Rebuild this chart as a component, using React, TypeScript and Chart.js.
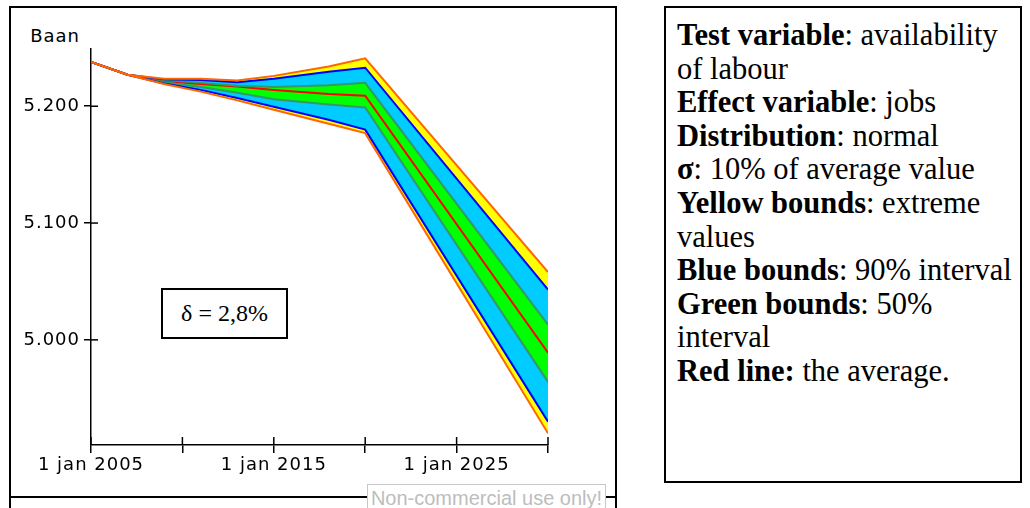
import React, { useEffect, useRef } from "react";
import { Chart, registerables } from "chart.js";

Chart.register(...registerables);

// ---- data ----
const years = [2005, 2007, 2009, 2011, 2013, 2015, 2018, 2020, 2030];
const extremeMax = [5238, 5227, 5223.5, 5223.5, 5222, 5226, 5234, 5241, 5058];
const p95 = [5238, 5227, 5223, 5222.5, 5220.5, 5223.5, 5229.5, 5233, 5043];
const p75 = [5238, 5227, 5222.5, 5220, 5217.5, 5216.5, 5218, 5220, 5013];
const average = [5238, 5227, 5221.5, 5219, 5217, 5214, 5210.5, 5209, 4989];
const p25 = [5238, 5227, 5220.5, 5216.5, 5211.5, 5206, 5201.5, 5199, 4964];
const p5 = [5238, 5227, 5219.5, 5214, 5207, 5199.5, 5188.5, 5180, 4930];
const extremeMin = [5238, 5227, 5219, 5212.5, 5205, 5197, 5185, 5177, 4920];

const xTickValues = [2005, 2010, 2015, 2020, 2025, 2030];
const xTickLabels = ["1 jan 2005", "", "1 jan 2015", "", "1 jan 2025", ""];
const yTickValues = [5000, 5100, 5200];
const yTickLabels = ["5.000", "5.100", "5.200"];

const ORANGE = "#FF6600";
const YELLOW = "#FFFF00";
const BLUE = "#0000FF";
const LIGHTBLUE = "#00CCFF";
const GREENLINE = "#339966";
const GREEN = "#00FF00";
const RED = "#FF0000";

const pts = (arr: number[]) => arr.map((v, i) => ({ x: years[i], y: v }));

const spacing = {
  id: "spacing",
  beforeDraw(chart: any) {
    try {
      chart.ctx.letterSpacing = "1px";
    } catch (e) {}
  },
};

const crossTicks = {
  id: "crossTicks",
  afterDraw(chart: any) {
    const { ctx, chartArea, scales } = chart;
    ctx.save();
    ctx.strokeStyle = "#000";
    ctx.lineWidth = 1.5;
    xTickValues.forEach((v) => {
      const px = scales.x.getPixelForValue(v);
      ctx.beginPath();
      ctx.moveTo(px, chartArea.bottom);
      ctx.lineTo(px, chartArea.bottom - 8);
      ctx.stroke();
    });
    yTickValues.forEach((v) => {
      const py = scales.y.getPixelForValue(v);
      ctx.beginPath();
      ctx.moveTo(chartArea.left, py);
      ctx.lineTo(chartArea.left + 7, py);
      ctx.stroke();
    });
    ctx.restore();
  },
};

function ChartCanvas() {
  const ref = useRef<HTMLCanvasElement>(null);
  useEffect(() => {
    if (!ref.current) return;
    const font = { family: "'DejaVu Sans'", size: 18 };
    const line = (label: string, data: number[], color: string, order: number, fill: any, bg: string) => ({
      label,
      data: pts(data),
      borderColor: color,
      borderWidth: 2,
      backgroundColor: bg,
      fill,
      order,
      pointRadius: 0,
      tension: 0,
    });
    const chart = new Chart(ref.current, {
      type: "line",
      data: {
        datasets: [
          line("max", extremeMax, ORANGE, 0, 1, YELLOW),
          line("p95", p95, BLUE, 1, 2, LIGHTBLUE),
          line("p75", p75, GREENLINE, 2, 4, GREEN),
          line("average", average, RED, 3, false, RED),
          line("p25", p25, GREENLINE, 2, 5, LIGHTBLUE),
          line("p5", p5, BLUE, 1, 6, YELLOW),
          line("min", extremeMin, ORANGE, 0, false, YELLOW),
        ] as any,
      },
      options: {
        animation: false,
        responsive: false,
        maintainAspectRatio: false,
        layout: { padding: { left: 0, top: 49, right: 482, bottom: 23 } },
        plugins: {
          legend: { display: false },
          tooltip: { enabled: false },
          filler: { drawTime: "beforeDatasetsDraw" },
        } as any,
        scales: {
          x: {
            type: "linear",
            min: 2005,
            max: 2030,
            afterBuildTicks: (s: any) => {
              s.ticks = xTickValues.map((v) => ({ value: v }));
            },
            afterFit: (s: any) => {
              s.height = 40;
            },
            ticks: {
              autoSkip: false,
              maxRotation: 0,
              color: "#000",
              font,
              padding: 2,
              callback: (v: any) => xTickLabels[xTickValues.indexOf(Number(v))] ?? "",
            },
            grid: { drawOnChartArea: false, tickLength: 8, color: "#000", lineWidth: 1.5 },
            border: { color: "#000", width: 1.5 },
          },
          y: {
            min: 4910,
            max: 5249,
            afterBuildTicks: (s: any) => {
              s.ticks = yTickValues.map((v) => ({ value: v }));
            },
            afterFit: (s: any) => {
              s.width = 91;
            },
            ticks: {
              color: "#000",
              font,
              padding: 4,
              callback: (v: any) => yTickLabels[yTickValues.indexOf(Number(v))] ?? "",
            },
            grid: { drawOnChartArea: false, tickLength: 7, color: "#000", lineWidth: 1.5 },
            border: { color: "#000", width: 1.5 },
          },
        },
      } as any,
      plugins: [spacing, crossTicks],
    });
    return () => chart.destroy();
  }, []);
  return (
    <canvas
      ref={ref}
      width={1030}
      height={508}
      style={{ position: "absolute", left: 0, top: 0, width: 1030, height: 508 }}
    />
  );
}

export default function App() {
  const serif = "'Liberation Serif', 'Times New Roman', serif";
  return (
    <div
      style={{
        position: "fixed",
        left: 0,
        top: 0,
        width: 1030,
        height: 508,
        background: "#fff",
        overflow: "hidden",
      }}
    >
      {/* chart frame */}
      <div
        style={{
          position: "absolute",
          left: 9,
          top: 6,
          width: 608,
          height: 492,
          border: "2px solid #000",
          boxSizing: "border-box",
        }}
      />
      <div
        style={{
          position: "absolute",
          left: 9,
          top: 496,
          width: 608,
          height: 40,
          borderLeft: "2px solid #000",
          borderRight: "2px solid #000",
          boxSizing: "border-box",
        }}
      />
      <div
        style={{
          position: "absolute",
          left: 10,
          top: 24,
          width: 70,
          textAlign: "right",
          fontFamily: "'DejaVu Sans'",
          fontSize: 18,
          letterSpacing: "1px",
          lineHeight: "24px",
          color: "#000",
        }}
      >
        Baan
      </div>
      <ChartCanvas />
      {/* delta box */}
      <div
        style={{
          position: "absolute",
          left: 161,
          top: 288,
          width: 127,
          height: 51,
          border: "2px solid #000",
          boxSizing: "border-box",
          background: "#fff",
          fontFamily: serif,
          fontSize: 24,
          lineHeight: "47px",
          textAlign: "center",
          color: "#000",
        }}
      >
        δ = 2,8%
      </div>
      {/* watermark */}
      <div
        style={{
          position: "absolute",
          left: 367,
          top: 484,
          width: 239,
          height: 30,
          border: "1px solid #c8c8c8",
          boxSizing: "border-box",
          background: "#fff",
          fontFamily: "'Liberation Sans', Arial, sans-serif",
          fontSize: 20,
          lineHeight: "26px",
          color: "#bdbdbd",
          textAlign: "center",
          whiteSpace: "nowrap",
        }}
      >
        Non-commercial use only!
      </div>
      {/* legend box */}
      <div
        style={{
          position: "absolute",
          left: 664,
          top: 6,
          width: 358,
          height: 477,
          border: "2px solid #000",
          boxSizing: "border-box",
          background: "#fff",
        }}
      />
      <div
        style={{
          position: "absolute",
          left: 677,
          top: 19,
          fontFamily: serif,
          fontSize: 30.5,
          lineHeight: "33.6px",
          color: "#000",
          whiteSpace: "nowrap",
        }}
      >
        <b>Test variable</b>: availability
        <br />
        of labour
        <br />
        <b>Effect variable</b>: jobs
        <br />
        <b>Distribution</b>: normal
        <br />
        <b>σ</b>: 10% of average value
        <br />
        <b>Yellow bounds</b>: extreme
        <br />
        values
        <br />
        <b>Blue bounds</b>: 90% interval
        <br />
        <b>Green bounds</b>: 50%
        <br />
        interval
        <br />
        <b>Red line:</b> the average.
      </div>
    </div>
  );
}
